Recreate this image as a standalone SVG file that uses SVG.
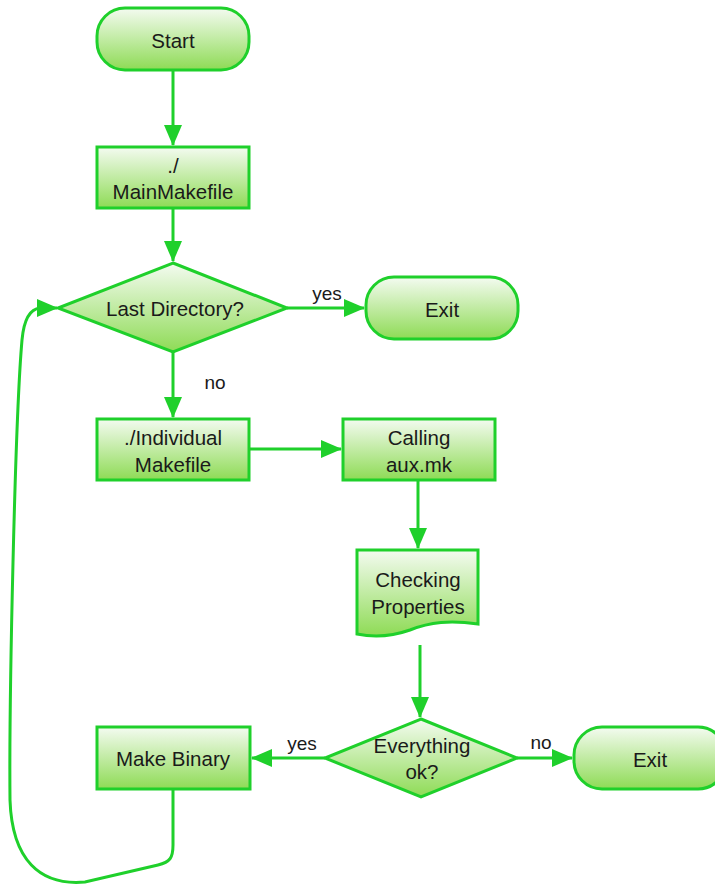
<svg xmlns="http://www.w3.org/2000/svg" width="715" height="884" viewBox="0 0 715 884">
<style>
.n{stroke:#1fd02b;stroke-width:3;fill:url(#g)}
.c{stroke:#1fd02b;stroke-width:3;fill:none}
text{font-family:"Liberation Sans",Arial,sans-serif;font-size:20.5px;fill:#1a1a1a;text-anchor:middle;dominant-baseline:central}
.l{font-size:19px}
</style>
<defs>
<linearGradient id="g" x1="0" y1="0" x2="0" y2="1">
<stop offset="0" stop-color="#f4fbf1"/>
<stop offset="1" stop-color="#8edb55"/>
</linearGradient>
<marker id="a" markerUnits="userSpaceOnUse" markerWidth="21" markerHeight="18" refX="20" refY="9" orient="auto">
<path d="M0,0 L21,9 L0,18 Z" fill="#1fd02b"/>
</marker>
</defs>
<g id="connectors">
<path class="c" d="M173,70 L173,145" marker-end="url(#a)"/>
<path class="c" d="M173,208 L173,261" marker-end="url(#a)"/>
<path class="c" d="M287,308 L364,308" marker-end="url(#a)"/>
<path class="c" d="M173,352 L173,417" marker-end="url(#a)"/>
<path class="c" d="M249,449 L341,449" marker-end="url(#a)"/>
<path class="c" d="M418,480 L418,548" marker-end="url(#a)"/>
<path class="c" d="M420,645 L420,717" marker-end="url(#a)"/>
<path class="c" d="M325,758 L252,758" marker-end="url(#a)"/>
<path class="c" d="M517,758 L572,758" marker-end="url(#a)"/>
<path class="c" d="M173,790 L173,845 C173,858 170,862 158,865 L85,882 C40,886 12,860 10,800 C9,700 15,420 22,340 C24,318 30,309 40,308 L57,308" marker-end="url(#a)"/>
<text class="l" x="327" y="293">yes</text>
<text class="l" x="215" y="382">no</text>
<text class="l" x="302" y="743">yes</text>
<text class="l" x="541" y="742">no</text>
</g>
<g id="start"><rect class="n" x="97" y="8" width="152" height="62" rx="28"/><text x="173" y="40">Start</text></g>
<g id="mainmakefile"><rect class="n" x="97" y="147" width="152" height="61"/><text x="173" y="165">./</text><text x="173" y="191">MainMakefile</text></g>
<g id="lastdir"><path class="n" d="M173,263 L287,308 L173,352 L58,308 Z"/><text x="175" y="308">Last Directory?</text></g>
<g id="exit1"><rect class="n" x="366" y="277" width="152" height="62" rx="28"/><text x="442" y="309">Exit</text></g>
<g id="individual"><rect class="n" x="97" y="419" width="152" height="61"/><text x="173" y="437">./Individual</text><text x="173" y="464">Makefile</text></g>
<g id="calling"><rect class="n" x="343" y="419" width="152" height="61"/><text x="419" y="437">Calling</text><text x="419" y="464">aux.mk</text></g>
<g id="checking"><path class="n" d="M357,550 L478,550 L478,624 C450,620 430,622 410,630 C390,637 372,637 357,634 Z"/><text x="418" y="579">Checking</text><text x="418" y="606">Properties</text></g>
<g id="everything"><path class="n" d="M421,719 L517,758 L421,797 L325,758 Z"/><text x="422" y="745">Everything</text><text x="422" y="771">ok?</text></g>
<g id="makebinary"><rect class="n" x="97" y="727" width="153" height="62"/><text x="173" y="758">Make Binary</text></g>
<g id="exit2"><rect class="n" x="574" y="727" width="152" height="62" rx="28"/><text x="650" y="759">Exit</text></g>
</svg>
